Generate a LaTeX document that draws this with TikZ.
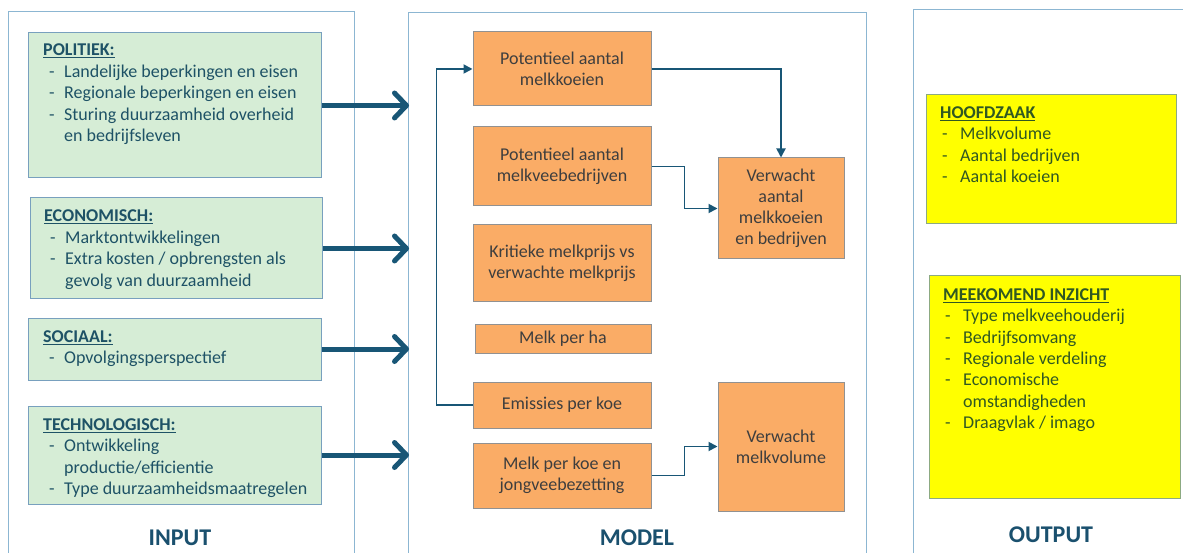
\documentclass[tikz,border=0pt]{standalone}
\usepackage{fontspec}
\setmainfont{Carlito}
\usetikzlibrary{arrows.meta}
\definecolor{panelc}{RGB}{140,182,210}
\definecolor{gfill}{RGB}{214,237,214}
\definecolor{gborder}{RGB}{120,160,190}
\definecolor{gtext}{RGB}{30,82,102}
\definecolor{ofill}{RGB}{250,172,102}
\definecolor{oborder}{RGB}{145,145,145}
\definecolor{otext}{RGB}{62,62,62}
\definecolor{yfill}{RGB}{255,255,0}
\definecolor{yborder}{RGB}{140,170,130}
\definecolor{ytext}{RGB}{48,88,34}
\definecolor{arrc}{RGB}{24,86,118}
\definecolor{labc}{RGB}{26,80,110}
\newcommand{\hdr}[1]{\underline{\textbf{#1}}}
\newcommand{\gd}{\makebox[21pt][l]{\hspace{6pt}-}}
\newcommand{\yd}{\makebox[20pt][l]{\hspace{2pt}-}}
\begin{document}
\begin{tikzpicture}[x=1pt,y=-1pt,
  panel/.style={draw=panelc,line width=1pt},
  gbox/.style={draw=gborder,fill=gfill,line width=1pt,inner sep=0pt},
  obox/.style={draw=oborder,fill=ofill,line width=1pt,inner sep=0pt,align=center,
    text=otext,font=\fontsize{18}{21}\selectfont,minimum width=178pt},
  ybox/.style={draw=yborder,fill=yfill,line width=1pt,inner sep=0pt},
  gtxt/.style={anchor=north west,inner sep=0pt,text=gtext,font=\fontsize{18}{21.5}\selectfont},
  ytxt/.style={anchor=north west,inner sep=0pt,text=ytext,font=\fontsize{18}{21.3}\selectfont},
  lab/.style={inner sep=0pt,text=labc,font=\fontsize{24}{28}\selectfont\bfseries},
  bigarrow/.style={draw=arrc,line width=5pt,-{Straight Barb[length=12pt,width=25pt,line cap=round,line join=round]}},
  thinarrow/.style={draw=arrc,line width=1.8pt,-{Triangle[length=9pt,width=9pt]}}
]
\useasboundingbox (0,0) rectangle (1183,553);
\fill[white] (0,0) rectangle (1183,553);
% panels
\draw[panel] (8,600) -- (8,12) -- (354,12) -- (354,600);
\draw[panel] (408,600) -- (408,13) -- (866,13) -- (866,600);
\draw[panel] (913,600) -- (913,10) -- (1200,10);
% green boxes
\node[gbox,minimum width=293pt,minimum height=145pt] (pol) at (174.5,105.5) {};
\node[gbox,minimum width=292pt,minimum height=101pt] (eco) at (176,248.5) {};
\node[gbox,minimum width=293pt,minimum height=62pt] (soc) at (174.5,349) {};
\node[gbox,minimum width=293pt,minimum height=98pt] (tec) at (174.5,455) {};
\node[gtxt] (polt) at (43,40.5) {\begin{tabular}{@{}l@{}}
\hdr{POLITIEK:}\\
\gd Landelijke beperkingen en eisen\\
\gd Regionale beperkingen en eisen\\
\gd Sturing duurzaamheid overheid\\
\hspace*{21pt}en bedrijfsleven
\end{tabular}};
\node[gtxt] (ecot) at (44,206.5) {\begin{tabular}{@{}l@{}}
\hdr{ECONOMISCH:}\\
\gd Marktontwikkelingen\\
\gd Extra kosten / opbrengsten als\\
\hspace*{21pt}gevolg van duurzaamheid
\end{tabular}};
\node[gtxt] (soct) at (43,327) {\begin{tabular}{@{}l@{}}
\hdr{SOCIAAL:}\\
\gd Opvolgingsperspectief
\end{tabular}};
\node[gtxt] (tect) at (43,415) {\begin{tabular}{@{}l@{}}
\hdr{TECHNOLOGISCH:}\\
\gd Ontwikkeling\\
\hspace*{21pt}productie/efficientie\\
\gd Type duurzaamheidsmaatregelen
\end{tabular}};
% big arrows
\coordinate (inx) at (409,0);
\draw[bigarrow] (pol.east) -- (pol.east -| inx);
\draw[bigarrow] (eco.east) -- (eco.east -| inx);
\draw[bigarrow] (soc.east) -- (soc.east -| inx);
\draw[bigarrow] (tec.east) -- (tec.east -| inx);
% orange boxes
\node[obox,minimum height=74pt] (pkoe) at (562,69) {Potentieel aantal\\melkkoeien};
\node[obox,minimum height=79pt] (pbed) at (562,166.5) {Potentieel aantal\\melkveebedrijven};
\node[obox,minimum height=77pt] (krit) at (562,263.5) {Kritieke melkprijs vs\\verwachte melkprijs};
\node[obox,minimum width=176pt,minimum height=29pt] (ha) at (563,338.5) {Melk per ha};
\node[obox,minimum height=46pt] (emis) at (562,405) {Emissies per koe};
\node[obox,minimum height=65pt] (mpk) at (562,475.5) {Melk per koe en\\jongveebezetting};
\node[obox,minimum width=126pt,minimum height=101pt] (vaant) at (781,208.5) {Verwacht\\aantal\\melkkoeien\\en bedrijven};
\node[obox,minimum width=126pt,minimum height=129pt] (vmelk) at (781,446.5) {Verwacht\\melkvolume};
% thin arrows
\draw[thinarrow] (emis.west) -- ++(-36,0) |- (pkoe.west);
\draw[thinarrow] (pkoe.east) -| (vaant.north);
\draw[thinarrow] (pbed.east) -- ++(33,0) |- (vaant.west);
\draw[thinarrow] (mpk.east) -- ++(33,0) |- (vmelk.west);
% yellow boxes
\node[ybox,minimum width=250pt,minimum height=129pt] (hoofd) at (1051,159.5) {};
\node[ybox,minimum width=251pt,minimum height=222pt] (meek) at (1054.5,387) {};
\node[ytxt] (hoofdt) at (940,103.5) {\begin{tabular}{@{}l@{}}
\hdr{HOOFDZAAK}\\
\yd Melkvolume\\
\yd Aantal bedrijven\\
\yd Aantal koeien
\end{tabular}};
\node[ytxt] (meekt) at (943,285.5) {\begin{tabular}{@{}l@{}}
\hdr{MEEKOMEND INZICHT}\\
\yd Type melkveehouderij\\
\yd Bedrijfsomvang\\
\yd Regionale verdeling\\
\yd Economische\\
\hspace*{20pt}omstandigheden\\
\yd Draagvlak / imago
\end{tabular}};
% labels
\node[lab] (inl) at (180,538) {INPUT};
\node[lab] (modl) at (637,538) {MODEL};
\node[lab] (outl) at (1051,535) {OUTPUT};
\end{tikzpicture}
\end{document}
